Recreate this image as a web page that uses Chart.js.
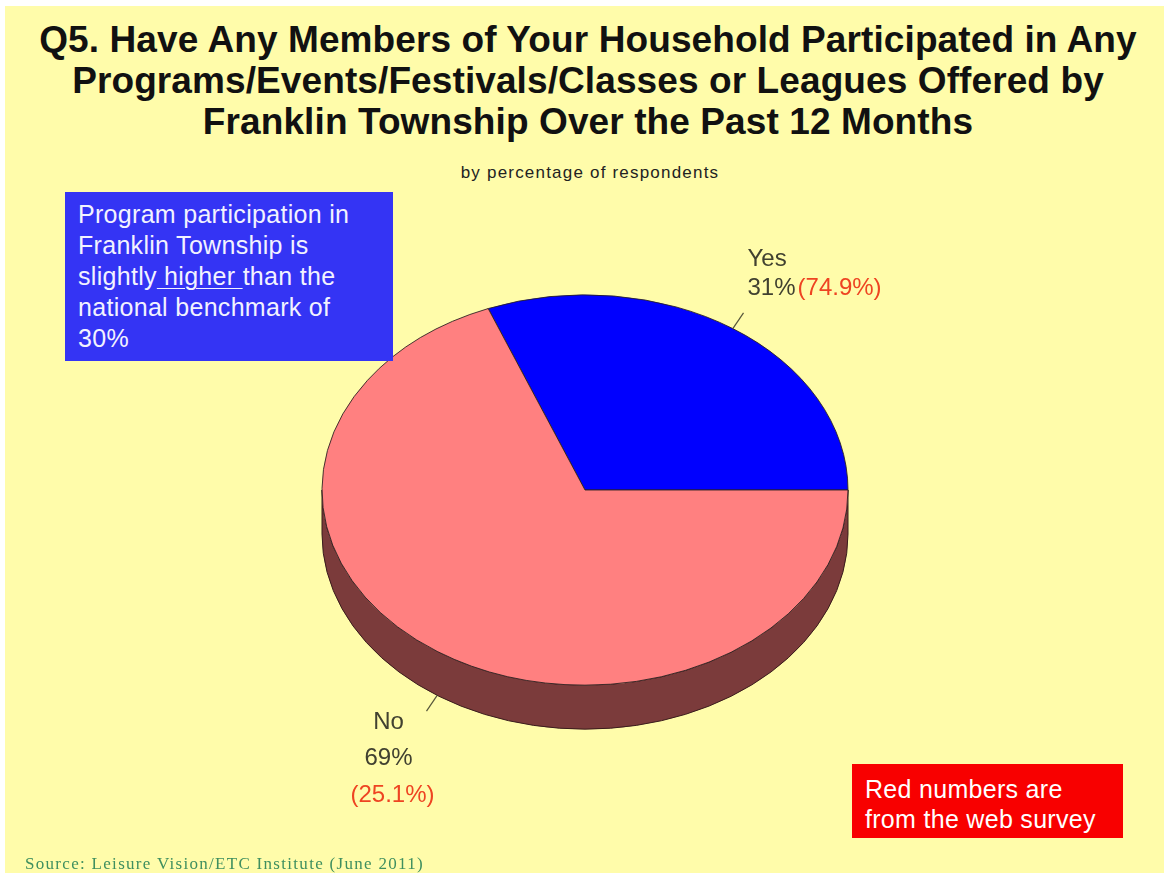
<!DOCTYPE html>
<html lang="en">
<head>
    <meta charset="UTF-8">
    <title>Q5. Household Program Participation</title>
    <script src="https://cdn.jsdelivr.net/npm/chart.js"></script>
    <style>
        body {
            margin: 0;
            width: 1164px;
            height: 873px;
            position: relative;
            overflow: hidden;
            background: #fff;
            font-family: "Liberation Sans", Arial, sans-serif;
        }
        #stage {
            position: absolute;
            left: 5px;
            top: 6px;
            right: 0;
            bottom: 0;
            background: #fffcaa;
        }
        #title {
            position: absolute;
            left: 0;
            width: 1176px;
            top: 19px;
            text-align: center;
            font-weight: bold;
            font-size: 37px;
            line-height: 41px;
            letter-spacing: 0.1px;
            color: #111;
        }
        #subtitle {
            position: absolute;
            left: 0;
            width: 1180px;
            top: 162px;
            text-align: center;
            font-size: 17px;
            line-height: 22px;
            letter-spacing: 1.2px;
            color: #222;
        }
        #pieCanvas {
            position: absolute;
            left: 0;
            top: 0;
        }
        .note {
            position: absolute;
            box-sizing: border-box;
            color: #f2f2ff;
            font-size: 25px;
            line-height: 31px;
            letter-spacing: 0.3px;
        }
        #blueNote {
            left: 65px;
            top: 192px;
            width: 328px;
            height: 169px;
            padding: 7px 0 0 13px;
            background: #3434f4;
        }
        #blueNote u {
            text-decoration-thickness: 1px;
            text-underline-offset: 3px;
        }
        #redNote {
            left: 852px;
            top: 764px;
            width: 271px;
            height: 74px;
            padding: 10px 0 0 13px;
            line-height: 30px;
            background: #f80000;
            color: #fff;
        }
        #source {
            position: absolute;
            left: 25px;
            top: 854px;
            font-family: "Liberation Serif", "Times New Roman", serif;
            font-size: 17px;
            letter-spacing: 1.3px;
            color: #3f8f5f;
        }
    </style>
</head>
<body>
    <div id="stage"></div>
    <div id="title">Q5. Have Any Members of Your Household Participated in Any<br>Programs/Events/Festivals/Classes or Leagues Offered by<br>Franklin Township Over the Past 12 Months</div>
    <div id="subtitle">by percentage of respondents</div>
    <canvas id="pieCanvas" width="1164" height="873"></canvas>
    <div id="blueNote" class="note">Program participation in<br>Franklin Township is<br>slightly<u> higher </u>than the<br>national benchmark of<br>30%</div>
    <div id="redNote" class="note">Red numbers are<br>from the web survey</div>
    <div id="source">Source: Leisure Vision/ETC Institute (June 2011)</div>

    <script>
        // survey answers
        const categories = ['Yes', 'No'];
        const phoneShare = [31, 69];      // mail/phone survey, %
        const webShare = [74.9, 25.1];    // web survey, % (shown in red)

        const faceColors = ['#0000ff', '#ff8080'];
        const sideColors = ['#00007f', '#7b3b3b'];
        const TILT = 0.742;   // vertical squash of the pie
        const DEPTH = 44;     // thickness of the pie wall

        // squash the pie into an ellipse and draw the front wall under it
        const tiltPlugin = {
            id: 'tilt',
            beforeDatasetsDraw(chart) {
                const ctx = chart.ctx;
                const arcs = chart.getDatasetMeta(0).data;
                const { x, y, outerRadius: r } = arcs[0];
                arcs.forEach((arc, i) => {
                    // only the lower half (0..PI) of the wall is visible
                    for (let n = -1; n <= 1; n++) {
                        const s = Math.max(arc.startAngle + n * 2 * Math.PI, 0);
                        const e = Math.min(arc.endAngle + n * 2 * Math.PI, Math.PI);
                        if (e <= s) continue;
                        ctx.beginPath();
                        ctx.ellipse(x, y + DEPTH, r, r * TILT, 0, s, e);
                        ctx.ellipse(x, y, r, r * TILT, 0, e, s, true);
                        ctx.closePath();
                        ctx.fillStyle = sideColors[i];
                        ctx.fill();
                        ctx.strokeStyle = '#3a1c1c';
                        ctx.lineWidth = 1;
                        ctx.stroke();
                    }
                });
                ctx.save();
                ctx.translate(x, y);
                ctx.scale(1, TILT);
                ctx.translate(-x, -y);
            },
            afterDatasetsDraw(chart) {
                chart.ctx.restore();
            }
        };

        // leader lines + "label / phone% (web%)" text
        const labelPlugin = {
            id: 'sliceLabels',
            afterDraw(chart) {
                const ctx = chart.ctx;
                ctx.save();
                ctx.font = '24px "Liberation Sans", Arial, sans-serif';
                ctx.textBaseline = 'middle';
                chart.getDatasetMeta(0).data.forEach((arc, i) => {
                    const m = (arc.startAngle + arc.endAngle) / 2;
                    const c = Math.cos(m), s = Math.sin(m);
                    const x0 = arc.x + arc.outerRadius * c;
                    const y0 = arc.y + arc.outerRadius * TILT * s + (s > 0 ? DEPTH : 0);
                    const x1 = x0 + 19 * c, y1 = y0 + 19 * s;

                    ctx.beginPath();
                    ctx.moveTo(x0, y0);
                    ctx.lineTo(x1, y1);
                    ctx.strokeStyle = '#55553a';
                    ctx.lineWidth = 1.2;
                    ctx.stroke();

                    const pct = phoneShare[i] + '%';
                    const web = '(' + webShare[i].toFixed(1) + '%)';
                    if (c > 0) {
                        const tx = x1 + 4;
                        ctx.textAlign = 'left';
                        ctx.fillStyle = '#414130';
                        ctx.fillText(categories[i], tx, y1 - 54);
                        ctx.fillText(pct, tx, y1 - 25);
                        ctx.fillStyle = '#ee4422';
                        ctx.fillText(web, tx + ctx.measureText(pct).width + 2, y1 - 25);
                    } else {
                        const tx = x1 - 38;
                        ctx.textAlign = 'center';
                        ctx.fillStyle = '#414130';
                        ctx.fillText(categories[i], tx, y1 + 11);
                        ctx.fillText(pct, tx, y1 + 47);
                        ctx.fillStyle = '#ee4422';
                        ctx.fillText(web, tx + 4, y1 + 84);
                    }
                });
                ctx.restore();
            }
        };

        const ctx = document.getElementById('pieCanvas').getContext('2d');
        new Chart(ctx, {
            type: 'pie',
            data: {
                labels: categories,
                datasets: [{
                    data: phoneShare,
                    backgroundColor: faceColors,
                    borderColor: '#2a2020',
                    borderWidth: 1,
                    radius: 263,
                    clip: false
                }]
            },
            options: {
                responsive: false,
                animation: false,
                // Yes slice runs counter-clockwise from 3 o'clock
                rotation: 90 - phoneShare[0] * 3.6,
                layout: {
                    padding: { left: 322, right: 316, top: 227, bottom: 120 }
                },
                plugins: {
                    legend: { display: false },
                    tooltip: { enabled: false }
                }
            },
            plugins: [tiltPlugin, labelPlugin]
        });
    </script>
</body>
</html>
